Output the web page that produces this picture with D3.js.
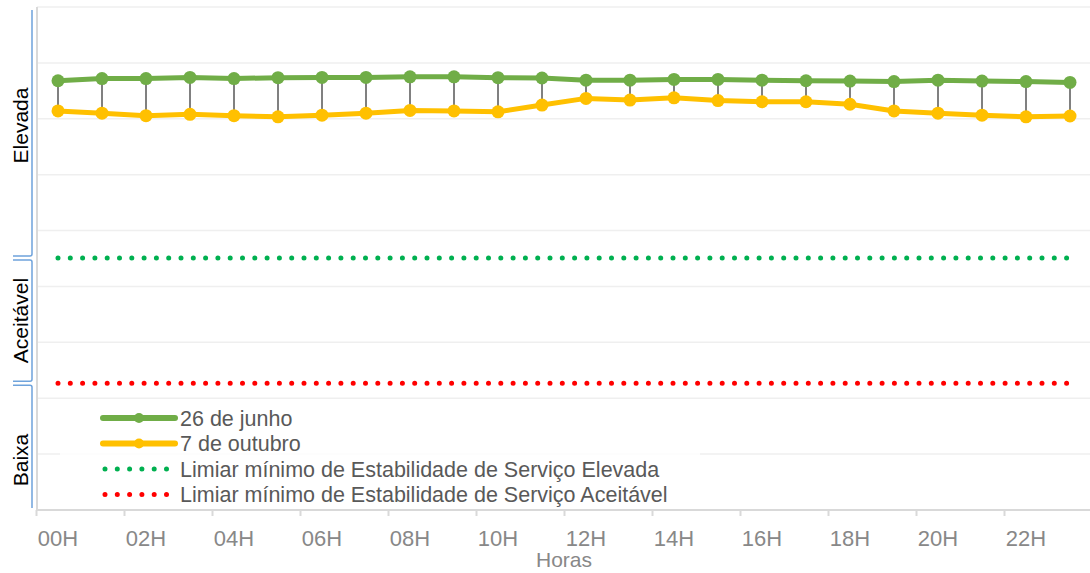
<!DOCTYPE html>
<html>
<head>
<meta charset="utf-8">
<script src="https://cdn.jsdelivr.net/npm/d3@7"></script>
<style>
  body { margin: 0; background: #fff; }
  svg { display: block; font-family: "Liberation Sans", Arial, sans-serif; }
</style>
</head>
<body>
<svg></svg>
<script>
var width = 1090, height = 573;

// data
var hours = d3.range(0, 24);
var hourLabels = ["00H", "02H", "04H", "06H", "08H", "10H", "12H", "14H", "16H", "18H", "20H", "22H"];
var junho = [76.8, 77.2, 77.2, 77.4, 77.2, 77.35, 77.4, 77.4, 77.5, 77.5, 77.35, 77.3,
             76.9, 76.9, 77.05, 77.05, 76.9, 76.8, 76.75, 76.65, 76.9, 76.75, 76.65, 76.5];
var outubro = [71.4, 71.0, 70.55, 70.8, 70.55, 70.35, 70.65, 71.0, 71.5, 71.4, 71.25, 72.45,
               73.65, 73.35, 73.75, 73.25, 73.05, 73.05, 72.6, 71.4, 71.0, 70.65, 70.35, 70.5];
var limiarElevada = 45.1;
var limiarAceitavel = 22.7;
var categories = ["Elevada", "Aceitável", "Baixa"];
var categoryRanges = [[45.1, 92.5], [22.7, 45.1], [-4.8, 22.7]];
var seriesNames = ["26 de junho", "7 de outubro",
  "Limiar mínimo de Estabilidade de Serviço Elevada",
  "Limiar mínimo de Estabilidade de Serviço Aceitável"];

var green = "#70ad47", gold = "#ffc000", dotGreen = "#00b050", dotRed = "#ff0000";

var svg = d3.select("svg").attr("width", width).attr("height", height);

var x = d3.scaleBand().domain(hours).range([36, 1092]).padding(0);
var y = d3.scaleLinear().domain([0, 90]).range([510, 7]);
var cx = function (h) { return x(h) + x.bandwidth() / 2; };

// gridlines
svg.append("g")
  .selectAll("line")
  .data(y.ticks(9).filter(function (d) { return d > 0; }))
  .join("line")
  .attr("x1", 37).attr("x2", width)
  .attr("y1", function (d) { return y(d); })
  .attr("y2", function (d) { return y(d); })
  .attr("stroke", "#efefef")
  .attr("stroke-width", 1.5);

// left axis line
svg.append("line")
  .attr("x1", 37).attr("x2", 37)
  .attr("y1", y(90)).attr("y2", y(0))
  .attr("stroke", "#d9d9d9").attr("stroke-width", 2);

// bottom axis
var xAxis = svg.append("g")
  .attr("transform", "translate(0," + y(0) + ")");
xAxis.append("line")
  .attr("x1", 36).attr("x2", width)
  .attr("stroke", "#d9d9d9").attr("stroke-width", 2);
xAxis.selectAll(".tick")
  .data(hours.filter(function (h) { return h % 2 === 0; }))
  .join("line")
  .attr("class", "tick")
  .attr("x1", function (h) { return x(h) + 0.5; })
  .attr("x2", function (h) { return x(h) + 0.5; })
  .attr("y1", 0).attr("y2", 6)
  .attr("stroke", "#d9d9d9").attr("stroke-width", 2);
xAxis.selectAll(".lbl")
  .data(hourLabels)
  .join("text")
  .attr("class", "lbl")
  .attr("x", function (d, i) { return cx(i * 2); })
  .attr("y", 36)
  .attr("text-anchor", "middle")
  .attr("fill", "#888")
  .style("font-size", "22px")
  .text(function (d) { return d; });
svg.append("text")
  .attr("x", (x.range()[0] + x.range()[1]) / 2)
  .attr("y", 567)
  .attr("text-anchor", "middle")
  .attr("fill", "#888")
  .style("font-size", "21px")
  .text("Horas");

// category brackets
var clampY = function (v) { return Math.max(10, Math.min(508, y(v))); };
categories.forEach(function (c, i) {
  var r = categoryRanges[i];
  var top = clampY(r[1]), bot = clampY(r[0]);
  var hookTop = top > 12, hookBot = bot < 506;
  var t = hookTop ? top + 2 : top, b = hookBot ? bot - 2 : bot;
  var p = d3.path();
  if (hookTop) { p.moveTo(13, t); p.lineTo(30, t); p.quadraticCurveTo(32, t, 32, t + 2); }
  else p.moveTo(32, t);
  if (hookBot) { p.lineTo(32, b - 2); p.quadraticCurveTo(32, b, 30, b); p.lineTo(13, b); }
  else p.lineTo(32, b);
  svg.append("path").attr("d", p.toString())
    .attr("fill", "none").attr("stroke", "#6fa3dc").attr("stroke-width", 1.5);
  var mid = (y(r[0]) + y(r[1])) / 2;
  svg.append("text")
    .attr("transform", "translate(28," + mid + ") rotate(-90)")
    .attr("text-anchor", "middle")
    .attr("fill", "#000")
    .style("font-size", "21px")
    .text(c);
});

// threshold lines
[[limiarElevada, dotGreen], [limiarAceitavel, dotRed]].forEach(function (t) {
  svg.append("line")
    .attr("x1", cx(0)).attr("x2", cx(23))
    .attr("y1", y(t[0])).attr("y2", y(t[0]))
    .attr("stroke", t[1]).attr("stroke-width", 5)
    .attr("stroke-linecap", "round")
    .attr("stroke-dasharray", "0 12.3");
});

// high-low lines
svg.append("g")
  .selectAll("line")
  .data(hours)
  .join("line")
  .attr("x1", cx).attr("x2", cx)
  .attr("y1", function (h) { return y(junho[h]); })
  .attr("y2", function (h) { return y(outubro[h]); })
  .attr("stroke", "#808080").attr("stroke-width", 2);

// series
var line = d3.line()
  .x(function (d, i) { return cx(i); })
  .y(function (d) { return y(d); });

[[outubro, gold], [junho, green]].forEach(function (s) {
  svg.append("path")
    .datum(s[0])
    .attr("d", line)
    .attr("fill", "none")
    .attr("stroke", s[1])
    .attr("stroke-width", 5)
    .attr("stroke-linejoin", "round");
  svg.append("g")
    .selectAll("circle")
    .data(s[0])
    .join("circle")
    .attr("cx", function (d, i) { return cx(i); })
    .attr("cy", function (d) { return y(d); })
    .attr("r", 6.5)
    .attr("fill", s[1]);
});

// legend
var legend = svg.append("g");
legend.append("rect")
  .attr("x", 60).attr("y", 403).attr("width", 640).attr("height", 103)
  .attr("fill", "#fff").attr("opacity", 0.8);
var rows = [418, 443.5, 469, 494.5];
seriesNames.forEach(function (name, i) {
  var ry = rows[i];
  if (i < 2) {
    var col = i === 0 ? green : gold;
    legend.append("line")
      .attr("x1", 103).attr("x2", 175).attr("y1", ry).attr("y2", ry)
      .attr("stroke", col).attr("stroke-width", 6).attr("stroke-linecap", "round");
    legend.append("circle").attr("cx", 139).attr("cy", ry).attr("r", 5).attr("fill", col);
  } else {
    legend.append("line")
      .attr("x1", 105).attr("x2", 170).attr("y1", ry).attr("y2", ry)
      .attr("stroke", i === 2 ? dotGreen : dotRed).attr("stroke-width", 5)
      .attr("stroke-linecap", "round").attr("stroke-dasharray", "0 12.3");
  }
  legend.append("text")
    .attr("x", 180).attr("y", ry + 7.5)
    .attr("fill", "#595959")
    .style("font-size", "21.5px")
    .text(name);
});
</script>
</body>
</html>
